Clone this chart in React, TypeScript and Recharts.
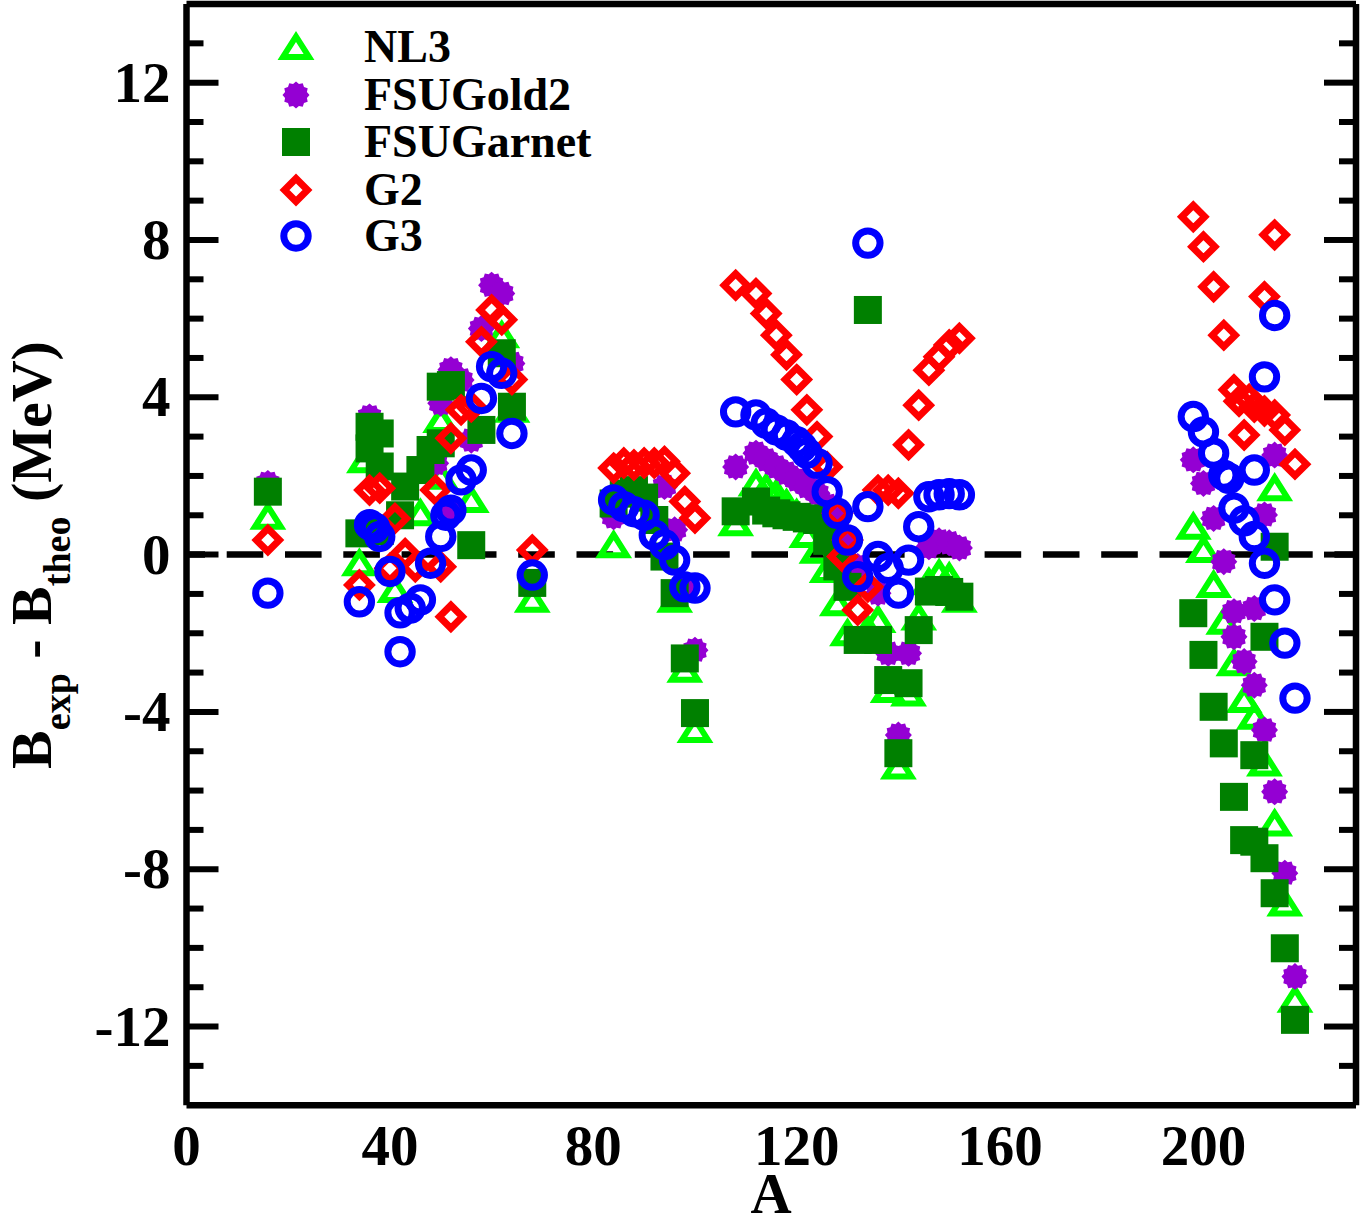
import React from 'react';
import { ScatterChart, Scatter, XAxis, YAxis, ReferenceLine, Legend } from 'recharts';

// ---------------- data (A, B_exp - B_theo in MeV) ----------------
const NL3_A = [16, 34, 35, 41, 46, 50, 50, 56, 62, 64, 68,
  84, 96, 98, 100,
  108, 112, 114, 116, 118, 120, 122, 124, 126, 128, 130, 134, 136, 138, 140, 142, 144, 146, 148, 150, 152,
  198, 200, 202, 204, 206, 208, 210, 212, 214, 214, 216, 218];
const NL3_DB = [0.96, -0.22, 2.4, -0.9, 1.05, 1.98, 3.42, 1.39, 5.58, 3.68, -1.15,
  0.24, -1.15, -2.93, -4.46,
  0.8, 1.81, 1.7, 1.55, 1.3, 1.05, 0.5, 0.1, -0.39, -1.24, -2.0, -1.9, -1.66, -3.44, -5.39, -3.53, -1.6, -0.7, -0.48, -0.56, -1.15,
  0.71, 0.12, -0.77, -1.71, -2.76, -3.7, -4.12, -5.31, -6.84, 1.69, -8.87, -11.32];

const FSUGOLD2_A = [16, 36, 49, 50, 52, 52, 54, 56, 58, 60, 62, 64,
  84, 94, 96, 98, 100,
  108, 112, 114, 116, 118, 120, 122, 124, 126, 128, 130, 132, 136, 138, 140, 142, 146, 148, 150, 152,
  198, 200, 202, 204, 206, 206, 208, 210, 210, 212, 212, 214, 214, 216, 218];
const FSUGOLD2_DB = [1.81, 3.5, 2.32, 3.85, 4.7, 1.18, 4.44, 2.91, 5.75, 6.85, 6.64, 4.86,
  0.96, 1.73, 0.63, -0.8, -2.43,
  2.23, 2.58, 2.41, 2.23, 2.07, 1.9, 1.73, 1.56, 1.25, 0.9, 0.3, -0.3, -0.98, -2.51, -4.59, -2.51, 0.2, 0.35, 0.3, 0.17,
  2.41, 1.81, 0.92, -0.18, -1.45, -2.09, -2.72, -1.37, -3.32, -4.46, 1.01, 2.53, -6.03, -8.1, -10.73];

const FSUGARNET_A = [16, 34, 36, 38, 36, 38, 38, 42, 43, 46, 48, 50, 50, 52, 56, 58, 62, 64, 68,
  84, 86, 88, 90, 92, 94, 96, 98, 100,
  108, 112, 114, 116, 118, 120, 122, 124, 126, 128, 130, 132, 134, 136, 138, 140, 142, 144, 146, 148, 150, 152,
  198, 200, 202, 204, 206, 208, 210, 210, 212, 212, 214, 214, 216, 218];
const FSUGARNET_DB = [1.6, 0.54, 3.25, 3.08, 2.7, 2.24, 0.6, 1.0, 1.73, 2.15, 2.66, 2.83, 4.27, 4.31, 0.24, 3.17, 5.12, 3.76, -0.72,
  1.3, 1.55, 1.64, 1.45, 0.88, -0.05, -0.98, -2.64, -4.03,
  1.1, 1.35, 1.12, 1.05, 1.0, 0.96, 0.92, 0.88, 0.35, -0.3, -0.82, -2.17, 6.22, -2.17, -3.19, -5.05, -3.27, -1.92, -0.94, -0.9, -0.95, -1.07,
  -1.49, -2.55, -3.87, -4.8, -6.16, -7.26, -5.1, -7.3, -7.72, -2.09, -8.61, 0.2, -10.01, -11.83];

const G2_A = [16, 34, 36, 38, 40, 41, 43, 45, 49, 50, 52, 52, 54, 56, 58, 60, 62, 64, 68,
  84, 86, 88, 90, 92, 94, 96, 98, 100,
  108, 112, 114, 116, 118, 120, 122, 124, 126, 128, 129, 130, 132, 134, 136, 138, 140, 142, 144, 146, 148, 150, 152,
  198, 200, 202, 204, 206, 207, 208, 209, 210, 212, 212, 214, 214, 216, 218];
const G2_DB = [0.37, -0.77, 1.64, 1.69, -0.35, 0.92, 0.03, -0.31, 1.64, -0.31, -1.58, 2.96, 3.68, 3.76, 5.41, 6.22, 5.97, 4.45, 0.12,
  2.2, 2.33, 2.28, 2.33, 2.33, 2.37, 2.07, 1.35, 0.93,
  6.85, 6.64, 6.13, 5.58, 5.08, 4.45, 3.68, 3.0, 2.23, 1.05, -0.05, 0.37, -1.41, -0.82, 1.64, 1.64, 1.56, 2.79, 3.8, 4.69, 5.03, 5.33, 5.5,
  8.59, 7.83, 6.81, 5.58, 4.19, 3.9, 3.04, 3.95, 3.75, 6.56, 3.65, 8.13, 3.55, 3.17, 2.3];

const G3_A = [16, 34, 36, 37, 38, 40, 42, 42, 44, 46, 48, 50, 51, 52, 54, 56, 58, 60, 62, 64, 68,
  84, 86, 88, 90, 92, 94, 96, 98, 100,
  108, 112, 114, 116, 118, 120, 121, 122, 124, 126, 128, 130, 132, 134, 134, 136, 138, 140, 142, 144, 146, 148, 150, 152,
  198, 200, 202, 204, 205, 206, 208, 210, 210, 212, 212, 214, 214, 216, 218];
const G3_DB = [-0.98, -1.2, 0.76, 0.68, 0.46, -0.43, -1.48, -2.47, -1.36, -1.15, -0.22, 0.46, 1.0, 1.13, 1.9, 2.15, 3.97, 4.78, 4.61, 3.08, -0.52,
  1.39, 1.22, 1.09, 1.0, 0.5, 0.25, -0.14, -0.82, -0.85,
  3.63, 3.55, 3.34, 3.17, 3.04, 2.87, 2.74, 2.58, 2.32, 1.6, 1.05, 0.37, -0.56, 1.22, 7.92, -0.05, -0.35, -0.98, -0.14, 0.71, 1.47, 1.52, 1.55, 1.52,
  3.51, 3.12, 2.58, 2.02, 1.94, 1.18, 0.86, 0.46, 2.15, 4.52, -0.22, 6.08, -1.15, -2.25, -3.65];

const SERIES_NAMES = ['NL3', 'FSUGold2', 'FSUGarnet', 'G2', 'G3'];

const X_MAJOR = [0, 40, 80, 120, 160, 200];
const X_MINOR = [10, 20, 30, 50, 60, 70, 90, 100, 110, 130, 140, 150, 170, 180, 190, 210, 220];
const Y_MAJOR = [-12, -8, -4, 0, 4, 8, 12];
const Y_MINOR = [-13, -11, -10, -9, -7, -6, -5, -3, -2, -1, 1, 2, 3, 5, 6, 7, 9, 10, 11, 13];

const X_DOMAIN = [0, 230];
const Y_DOMAIN = [-14, 14];

const toPoints = (a: number[], b: number[]) => a.map((x, i) => ({ A: x, dB: b[i] }));

// ---------------- styling ----------------
const FONT = '"Liberation Serif", "Times New Roman", serif';
const C_NL3 = '#00ff00';
const C_GOLD = '#9400d3';
const C_GARNET = '#008000';
const C_G2 = '#ff0000';
const C_G3 = '#0000ff';

function TriangleMark({ cx, cy }: any) {
  return (
    <polygon
      points={`${cx},${cy - 10.5} ${cx + 13},${cy + 10} ${cx - 13},${cy + 10}`}
      fill="none" stroke={C_NL3} strokeWidth={6} strokeLinejoin="miter" strokeMiterlimit={10}
    />
  );
}
function StarMark({ cx, cy }: any) {
  const pts: string[] = [];
  for (let i = 0; i < 24; i++) {
    const r = i % 2 === 0 ? 13.5 : 11.3;
    const ang = (Math.PI * i) / 12;
    pts.push(`${cx + r * Math.cos(ang)},${cy + r * Math.sin(ang)}`);
  }
  return <polygon points={pts.join(' ')} fill={C_GOLD} />;
}
function SquareMark({ cx, cy }: any) {
  return <rect x={cx - 14} y={cy - 14} width={28} height={28} fill={C_GARNET} />;
}
function DiamondMark({ cx, cy }: any) {
  const d = 11.5;
  return (
    <polygon
      points={`${cx},${cy - d} ${cx + d},${cy} ${cx},${cy + d} ${cx - d},${cy}`}
      fill="none" stroke={C_G2} strokeWidth={7} strokeLinejoin="miter"
    />
  );
}
function CircleMark({ cx, cy }: any) {
  return <circle cx={cx} cy={cy} r={12.2} fill="none" stroke={C_G3} strokeWidth={7} />;
}

const MARKS = [TriangleMark, StarMark, SquareMark, DiamondMark, CircleMark];

function XTick(props: any) {
  const { x, y, payload } = props;
  return (
    <text x={x} y={y + 60} textAnchor="middle" fontFamily={FONT} fontWeight="bold" fontSize={57} fill="#000">
      {String(payload.value)}
    </text>
  );
}
function YTick(props: any) {
  const { x, y, payload } = props;
  return (
    <text x={x - 16} y={y + 19} textAnchor="end" fontFamily={FONT} fontWeight="bold" fontSize={57} fill="#000">
      {String(payload.value)}
    </text>
  );
}
const EmptyTick = () => <g />;

function XLabel() {
  return (
    <text x={771} y={1213} textAnchor="middle" fontFamily={FONT} fontWeight="bold" fontSize={57} fill="#000">
      A
    </text>
  );
}
function YLabel() {
  const bx = 51;
  const by = 555;
  return (
    <text
      x={bx} y={by} transform={`rotate(-90, ${bx}, ${by})`} textAnchor="middle"
      fontFamily={FONT} fontWeight="bold" fontSize={58} fill="#000"
    >
      B<tspan fontSize={38} dy={19}>exp</tspan>
      <tspan dy={-19}> - B</tspan>
      <tspan fontSize={38} dy={19}>theo</tspan>
      <tspan dy={-19}> (MeV)</tspan>
    </text>
  );
}

function LegendBox() {
  const rows = [47, 95, 142, 190, 236];
  return (
    <svg width={640} height={270} style={{ display: 'block' }}>
      {SERIES_NAMES.map((name, i) => {
        const M = MARKS[i];
        return (
          <g key={name}>
            <M cx={296} cy={rows[i]} />
            <text x={364} y={rows[i] + 15} fontFamily={FONT} fontWeight="bold" fontSize={46} fill="#000">
              {name}
            </text>
          </g>
        );
      })}
    </svg>
  );
}

const AX = { stroke: '#000', strokeWidth: 6.5 };
const TL = { stroke: '#000', strokeWidth: 6 };

export default function App() {
  const datasets = [
    toPoints(NL3_A, NL3_DB),
    toPoints(FSUGOLD2_A, FSUGOLD2_DB),
    toPoints(FSUGARNET_A, FSUGARNET_DB),
    toPoints(G2_A, G2_DB),
    toPoints(G3_A, G3_DB),
  ];
  return (
    <div style={{ position: 'absolute', left: 0, top: 0, width: 1360, height: 1220, background: '#fff' }}>
      <ScatterChart width={1360} height={1220} margin={{ top: 4, right: 4, bottom: 0, left: 0 }}>
        {/* label axes */}
        <XAxis
          xAxisId="x" type="number" dataKey="A" domain={X_DOMAIN} ticks={X_MAJOR} interval={0}
          height={114.8} tickSize={0} tickMargin={0} tickLine={false} axisLine={AX}
          tick={<XTick />} label={<XLabel />} allowDataOverflow
        />
        <YAxis
          yAxisId="y" type="number" dataKey="dB" domain={Y_DOMAIN} ticks={Y_MAJOR} interval={0}
          width={186.5} tickSize={0} tickMargin={0} tickLine={false} axisLine={AX}
          tick={<YTick />} label={<YLabel />} allowDataOverflow
        />
        {/* inward tick marks, all four sides */}
        <XAxis xAxisId="xbM" type="number" domain={X_DOMAIN} ticks={X_MAJOR} interval={0} orientation="bottom" mirror height={1}
          tickSize={30} axisLine={false} tickLine={TL} tick={EmptyTick} allowDataOverflow />
        <XAxis xAxisId="xbm" type="number" domain={X_DOMAIN} ticks={X_MINOR} interval={0} orientation="bottom" mirror height={1}
          tickSize={15} axisLine={false} tickLine={TL} tick={EmptyTick} allowDataOverflow />
        <XAxis xAxisId="xtM" type="number" domain={X_DOMAIN} ticks={X_MAJOR} interval={0} orientation="top" mirror height={1}
          tickSize={31} axisLine={AX} tickLine={TL} tick={EmptyTick} allowDataOverflow />
        <XAxis xAxisId="xtm" type="number" domain={X_DOMAIN} ticks={X_MINOR} interval={0} orientation="top" mirror height={1}
          tickSize={15} axisLine={false} tickLine={TL} tick={EmptyTick} allowDataOverflow />
        <YAxis yAxisId="ylM" type="number" domain={Y_DOMAIN} ticks={Y_MAJOR} interval={0} orientation="left" mirror width={1}
          tickSize={32} axisLine={false} tickLine={TL} tick={EmptyTick} allowDataOverflow />
        <YAxis yAxisId="ylm" type="number" domain={Y_DOMAIN} ticks={Y_MINOR} interval={0} orientation="left" mirror width={1}
          tickSize={16} axisLine={false} tickLine={TL} tick={EmptyTick} allowDataOverflow />
        <YAxis yAxisId="yrM" type="number" domain={Y_DOMAIN} ticks={Y_MAJOR} interval={0} orientation="right" mirror width={1}
          tickSize={32} axisLine={AX} tickLine={TL} tick={EmptyTick} allowDataOverflow />
        <YAxis yAxisId="yrm" type="number" domain={Y_DOMAIN} ticks={Y_MINOR} interval={0} orientation="right" mirror width={1}
          tickSize={16} axisLine={false} tickLine={TL} tick={EmptyTick} allowDataOverflow />

        <ReferenceLine
          y={0} xAxisId="x" yAxisId="y" stroke="#000" strokeWidth={6.5}
          strokeDasharray="36.6 21.7" strokeDashoffset={18.1} ifOverflow="visible"
        />

        {SERIES_NAMES.map((name, i) => {
          const M = MARKS[i];
          return (
            <Scatter
              key={name} name={name} data={datasets[i]} xAxisId="x" yAxisId="y"
              isAnimationActive={false}
              shape={(p: any) => <M cx={p.cx} cy={p.cy} />}
            />
          );
        })}

        <Legend
          layout="vertical" align="center" verticalAlign="middle"
          wrapperStyle={{ left: 0, top: 0, width: 640, height: 270 }}
          content={() => <LegendBox />}
        />
      </ScatterChart>
    </div>
  );
}
